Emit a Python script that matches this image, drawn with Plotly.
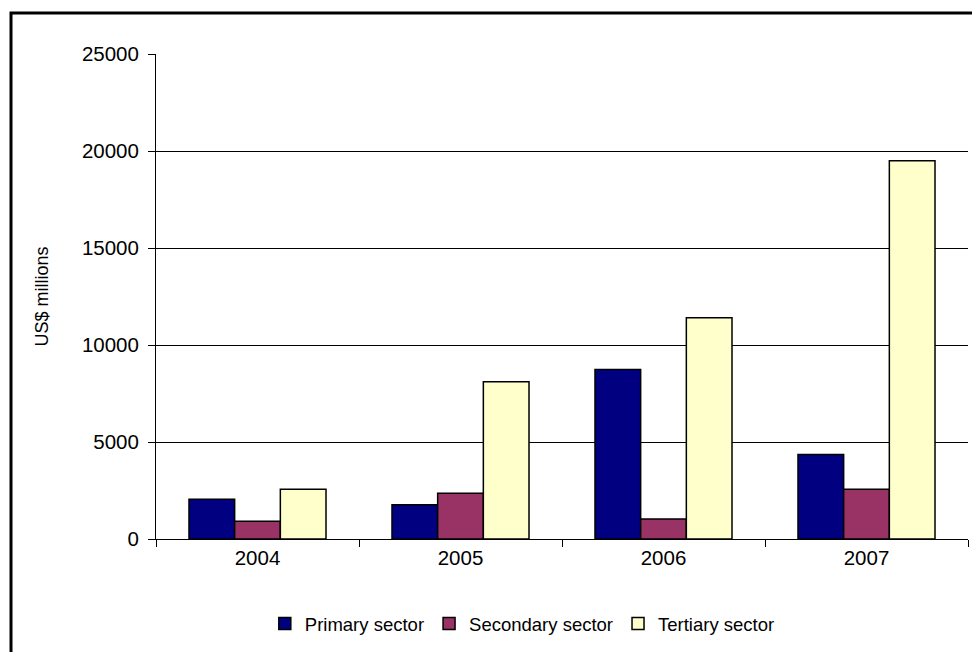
import plotly.graph_objects as go

years = ["2004", "2005", "2006", "2007"]
primary = [2050, 1760, 8740, 4350]
secondary = [920, 2360, 1030, 2570]
tertiary = [2570, 8100, 11400, 19500]
y_ticks = [0, 5000, 10000, 15000, 20000, 25000]

series = [
    ("Primary sector", primary, "#000080"),
    ("Secondary sector", secondary, "#993366"),
    ("Tertiary sector", tertiary, "#FFFFCC"),
]

font_family = "Liberation Sans, Arial, sans-serif"

fig = go.Figure()
for name, vals, color in series:
    fig.add_trace(go.Bar(
        name=name, x=years, y=vals,
        marker=dict(color=color, line=dict(color="#000000", width=1.5)),
    ))

fig.update_layout(
    width=972, height=652,
    margin=dict(l=156, r=4, t=54, b=113),
    paper_bgcolor="white", plot_bgcolor="white",
    barmode="group", bargap=0.325, bargroupgap=0,
    font=dict(family=font_family, size=18, color="#000000"),
    showlegend=True,
    legend=dict(
        orientation="h", x=0.134, xanchor="left", y=-0.175, yanchor="middle",
        font=dict(size=18.5), itemwidth=30, tracegroupgap=0,
        bgcolor="rgba(0,0,0,0)",
    ),
    xaxis=dict(
        type="category", showline=True, linecolor="#000000", linewidth=1,
        ticks="outside", tickson="boundaries", ticklen=7, tickcolor="#000000",
        tickfont=dict(size=20.5), showgrid=False,
    ),
    yaxis=dict(
        range=[0, 25000], tickvals=y_ticks, ticktext=[str(v) for v in y_ticks],
        showline=True, linecolor="#000000", linewidth=1,
        ticks="outside", ticklen=7, tickcolor="#000000", ticklabelstandoff=5,
        tickfont=dict(size=20.5), showgrid=True, gridcolor="#000000", gridwidth=1,
        zeroline=False,
        title=dict(text="US$ millions", font=dict(size=18), standoff=28),
    ),
    shapes=[
        # chart frame around the whole figure
        dict(type="rect", xref="paper", yref="paper",
             x0=(11 - 156) / 812, x1=1.2, y0=-0.4, y1=(539 - 13) / 485,
             line=dict(color="#000000", width=3), fillcolor="rgba(0,0,0,0)",
             layer="below"),
    ],
)

fig.write_html("out.html")
